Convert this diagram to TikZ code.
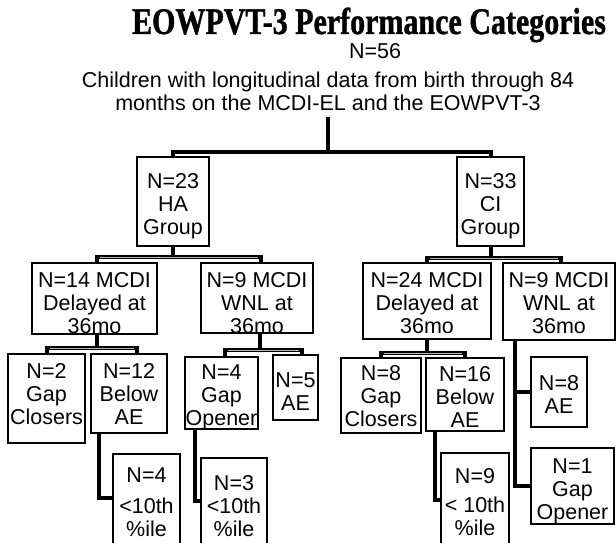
\documentclass[tikz,border=0pt]{standalone}
\usepackage{fontspec}
\setmainfont{Liberation Sans}
\newfontfamily\titlefont{Liberation Serif}[BoldFeatures={FakeBold=1.2}]
\begin{document}
\begin{tikzpicture}[x=1pt,y=-1pt,
  box/.style={draw, line width=2pt, inner sep=0pt, outer sep=0pt, anchor=north west},
  txt/.style={inner sep=0pt, outer sep=0pt, anchor=north, align=center, font=\fontsize{21.5}{23}\selectfont},
  conn/.style={line width=4pt, line cap=butt, line join=miter},
  stripe/.style={gray!55, line width=0.8pt, shorten >=3pt, shorten <=3pt}]
\useasboundingbox (0,0) rectangle (616,543);
% headings
\node[anchor=base, inner sep=0pt, font=\titlefont\bfseries\fontsize{30}{30}\selectfont] (title) at (369,34) {\scalebox{1}[1.25]{EOWPVT-3 Performance Categories}};
\node[anchor=base, inner sep=0pt, font=\fontsize{21.5}{23}\selectfont] (n56) at (375,58.5) {N=56};
\node[txt] (desc) at (328,72) {Children with longitudinal data from birth through 84\\months on the MCDI-EL and the EOWPVT-3};
% boxes
\node[box, minimum width=72pt, minimum height=89pt] (HA) at (137,157) {};
\node[box, minimum width=67pt, minimum height=89pt] (CI) at (457,157) {};
\node[box, minimum width=125pt, minimum height=71pt] (N14) at (32,263) {};
\node[box, minimum width=112pt, minimum height=70pt] (W9L) at (201,263) {};
\node[box, minimum width=128pt, minimum height=76pt] (N24) at (363,263) {};
\node[box, minimum width=112pt, minimum height=77pt] (W9R) at (503,263) {};
\node[box, minimum width=77pt, minimum height=89pt] (GC2) at (8,354) {};
\node[box, minimum width=76pt, minimum height=79pt] (B12) at (91,354) {};
\node[box, minimum width=73pt, minimum height=72pt] (GO4) at (185,357) {};
\node[box, minimum width=45pt, minimum height=65pt] (AE5) at (273,355) {};
\node[box, minimum width=80pt, minimum height=75pt] (GC8) at (341,358) {};
\node[box, minimum width=78pt, minimum height=73pt] (B16) at (426,358) {};
\node[box, minimum width=56pt, minimum height=70pt] (AE8) at (531,357) {};
\node[box, minimum width=83pt, minimum height=76pt] (GO1) at (531,448) {};
\node[box, minimum width=67pt, minimum height=106pt] (P4) at (113,454) {};
\node[box, minimum width=66pt, minimum height=102pt] (P3) at (201,458) {};
\node[box, minimum width=68pt, minimum height=107pt] (P9) at (441,453) {};
% texts
\node[txt] (HAt) at (173,173) {N=23\\HA\\Group};
\node[txt] (CIt) at (490.5,173) {N=33\\CI\\Group};
\node[txt] (N14t) at (94.5,272) {N=14 MCDI\\Delayed at\\36mo};
\node[txt] (W9Lt) at (257,272) {N=9 MCDI\\WNL at\\36mo};
\node[txt] (N24t) at (427,272) {N=24 MCDI\\Delayed at\\36mo};
\node[txt] (W9Rt) at (559,272) {N=9 MCDI\\WNL at\\36mo};
\node[txt] (GC2t) at (46.5,363) {N=2\\Gap\\Closers};
\node[txt] (B12t) at (129,363) {N=12\\Below\\AE};
\node[txt] (GO4t) at (221.5,365) {N=4\\Gap\\Opener};
\node[txt] (AE5t) at (295.5,373) {N=5\\AE};
\node[txt] (GC8t) at (381,365) {N=8\\Gap\\Closers};
\node[txt] (B16t) at (465,366) {N=16\\Below\\AE};
\node[txt] (AE8t) at (559,375) {N=8\\AE};
\node[txt] (GO1t) at (572.5,459) {N=1\\Gap\\Opener};
\node[txt] (P4t) at (146.5,468) {N=4\\[8pt]<10th\\\%ile};
\node[txt] (P3t) at (234,475) {N=3\\<10th\\\%ile};
\node[txt] (P9t) at (475,468) {N=9\\[6pt]< 10th\\\%ile};
% connectors
\coordinate (top) at (328,117);
\coordinate (b1) at (328,152);
\draw[conn] (top) -- (b1);
\draw[conn] (HA.north) |- (b1) -| (CI.north);
\draw[conn] (HA.south) -- ++(0,11) coordinate (b2);
\draw[conn] ([xshift=2.5pt]N14.north) |- coordinate[pos=0.5] (b2l) (b2) -| coordinate[pos=0.5] (b2r) ([xshift=4pt]W9L.north);
\draw[conn] (CI.south) -- ++(0,12) coordinate (b3);
\draw[conn] (N24.north) |- coordinate[pos=0.5] (b3l) (b3) -| coordinate[pos=0.5] (b3r) ([xshift=2pt]W9R.north);
\draw[conn] ([xshift=2.5pt]N14.south) -- ++(0,14) coordinate (b4);
\draw[conn] ([xshift=0.5pt]GC2.north) |- coordinate[pos=0.5] (b4l) (b4) -| coordinate[pos=0.5] (b4r) ([xshift=8pt]B12.north);
\draw[conn] ([xshift=3pt]W9L.south) -- ++(0,17) coordinate (b5);
\draw[conn] ([xshift=3.5pt]GO4.north) |- coordinate[pos=0.5] (b5l) (b5) -| coordinate[pos=0.5] (b5r) ([xshift=6.5pt]AE5.north);
\draw[conn] (N24.south) -- ++(0,14) coordinate (b6);
\draw[conn] (GC8.north) |- coordinate[pos=0.5] (b6l) (b6) -| coordinate[pos=0.5] (b6r) (B16.north);
\coordinate (wr) at ([xshift=-44pt]W9R.south);
\draw[conn] (wr) |- (GO1.west);
\draw[conn] (AE8.west) -- (AE8.west -| wr);
\draw[conn] ([xshift=8pt]B12.south west) |- ([yshift=-44pt]P4.north west);
\draw[conn] ([xshift=10pt]GO4.south west) |- ([yshift=-43pt]P3.north west);
\draw[conn] ([xshift=9pt]B16.south west) |- ([yshift=-47pt]P9.north west);
% inner stripes of the fork bars
\draw[stripe] (b2l) -- (b2r);
\draw[stripe] (b3l) -- (b3r);
\draw[stripe] (b4l) -- (b4r);
\draw[stripe] (b5l) -- (b5r);
\draw[stripe] (b6l) -- (b6r);
\end{tikzpicture}
\end{document}
